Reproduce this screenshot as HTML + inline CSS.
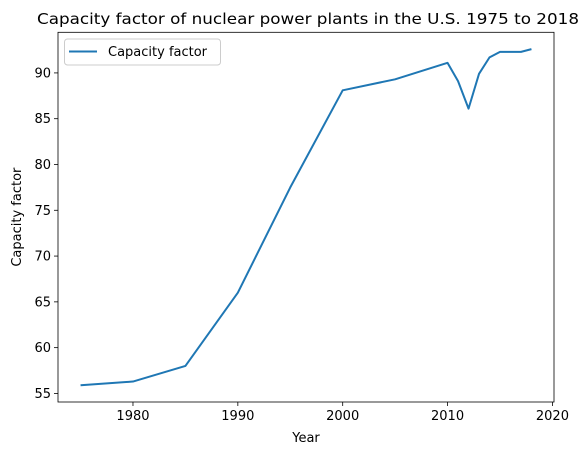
<!DOCTYPE html>
<html><head><meta charset="utf-8"><style>
body{margin:0;background:#fff;width:582px;height:455px;overflow:hidden}
text{font-family:"DejaVu Sans","Liberation Sans",sans-serif;fill:#000}
</style></head><body>
<svg id="chart" width="582" height="455" xmlns="http://www.w3.org/2000/svg"></svg>
<script>
const years=[1975,1980,1985,1990,1995,2000,2005,2010,2011,2012,2013,2014,2015,2016,2017,2018];
const capacity=[55.9,56.3,58.0,66.0,77.5,88.1,89.3,91.1,89.1,86.1,89.9,91.7,92.3,92.3,92.3,92.6];
const xTicks=[1980,1990,2000,2010,2020];
const yTicks=[55,60,65,70,75,80,85,90];
const L=58,R=554,T=32.3,B=402;
const xMin=1972.85,xMax=2020.15,yMin=54.065,yMax=94.435;
const sx=v=>L+(v-xMin)/(xMax-xMin)*(R-L);
const sy=v=>B-(v-yMin)/(yMax-yMin)*(B-T);
const svg=document.getElementById('chart');
const NS='http://www.w3.org/2000/svg';
function mk(tag,attrs,txt){const e=document.createElementNS(NS,tag);for(const k in attrs)e.setAttribute(k,attrs[k]);if(txt!==undefined)e.textContent=txt;svg.appendChild(e);return e;}
xTicks.forEach(t=>{
  const x=sx(t);
  const tk=mk('line',{x1:x,x2:x,y1:B,y2:B+4,stroke:'#000','stroke-width':0.8});
  
  
  const lb=mk('text',{x:x,y:B+18,'font-size':13,'text-anchor':'middle'},t);
  
  
});
yTicks.forEach(t=>{
  const y=sy(t);
  const tk=mk('line',{x1:L-4,x2:L,y1:y,y2:y,stroke:'#000','stroke-width':0.8});
  
  
  const lb=mk('text',{x:L-7,y:y+4.5,'font-size':13,'text-anchor':'end'},t);
  
  
});
const pts=years.map((y,i)=>sx(y).toFixed(2)+','+sy(capacity[i]).toFixed(2)).join(' ');
const line=mk('polyline',{points:pts,fill:'none',stroke:'#1f77b4','stroke-width':2,'stroke-linejoin':'round'});


const frame=mk('rect',{x:L,y:T,width:R-L,height:B-T,fill:'none',stroke:'#000','stroke-width':0.8});


const title=mk('text',{x:37,y:24,'font-size':15.5,textLength:542,lengthAdjust:'spacingAndGlyphs'},'Capacity factor of nuclear power plants in the U.S. 1975 to 2018');


const xt=mk('text',{x:(L+R)/2,y:442,'font-size':13,'text-anchor':'middle'},'Year');


const yt=mk('text',{x:21,y:(T+B)/2,'font-size':13,'text-anchor':'middle',transform:'rotate(-90 21 '+((T+B)/2)+')'},'Capacity factor');


const lg=mk('rect',{x:64.5,y:39,width:156,height:26,rx:3,fill:'#fff',stroke:'#ccc','stroke-width':1});


const ll=mk('line',{x1:69,x2:97,y1:51.5,y2:51.5,stroke:'#1f77b4','stroke-width':2});


const lt=mk('text',{x:108,y:56,'font-size':13},'Capacity factor');


</script>
</body></html>
